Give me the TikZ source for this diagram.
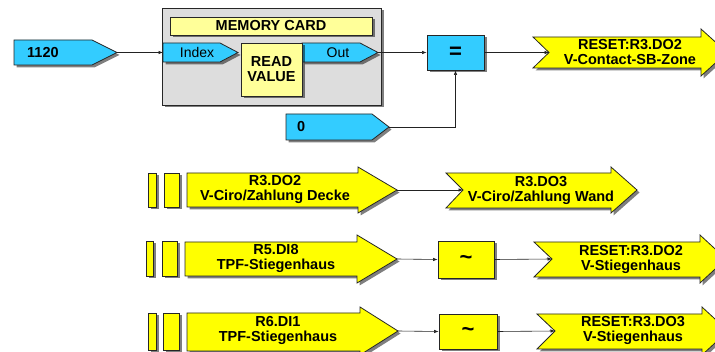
\documentclass[tikz,border=0pt]{standalone}
\usepackage{fontspec}
\setmainfont{Liberation Sans}
\usetikzlibrary{shadows,arrows.meta}
\definecolor{tagblue}{HTML}{33CCFF}
\definecolor{sigyellow}{HTML}{FFFF00}
\definecolor{paleyellow}{HTML}{FFFF99}
\definecolor{cardgray}{HTML}{DDDDDD}
\definecolor{wirecol}{HTML}{222222}
\tikzset{
  shade3d/.style={drop shadow={shadow xshift=2.5pt, shadow yshift=-2.5pt, fill=black, opacity=0.5}},
  outline/.style={draw=black!85, line width=0.8pt, shade3d},
  bluetag/.style={outline, fill=tagblue},
  sig/.style={outline, fill=sigyellow},
  pale/.style={outline, fill=paleyellow},
  boxnode/.style={rectangle, inner sep=0pt, line width=0.8pt, draw=black!85, shade3d},
  lbl/.style={font=\bfseries\fontsize{14.5}{15}\selectfont, align=center, inner sep=0pt},
  plainlbl/.style={font=\fontsize{14}{15}\selectfont, inner sep=0pt},
  wire/.style={draw=wirecol, line width=0.6pt, -{Latex[length=4.5pt,width=3.5pt]}},
  notbox/.style={boxnode, fill=sigyellow, font=\bfseries\fontsize{22}{22}\selectfont},
}
\begin{document}
\begin{tikzpicture}[x=1pt,y=-1pt]
\useasboundingbox (0,0) rectangle (715,352);

% ---------- memory card block ----------
\node[boxnode, fill=cardgray, minimum width=219pt, minimum height=97pt] (card) at (271.5,56.5) {};
\node[boxnode, fill=paleyellow, minimum width=202pt, minimum height=18pt] (title) at (271,26) {};
\node[lbl] (titletxt) at (271,26) {MEMORY CARD};

\path[bluetag] (163,43) -- (220,43) -- (238,52.5) -- (220,62) -- (163,62) -- cycle;
\node[plainlbl] (idx) at (197,52.5) {Index};
\coordinate (idxin) at (163,52.5);

\path[bluetag] (302,43) -- (360,43) -- (378,52.5) -- (360,62) -- (302,62) -- cycle;
\node[plainlbl] (outp) at (338,52.5) {Out};
\coordinate (outtip) at (378,52.5);

\node[boxnode, fill=paleyellow, minimum width=61pt, minimum height=53pt, lbl] (rv) at (271.5,69.5) {READ\\VALUE};

% ---------- constants ----------
\path[bluetag] (14,40) -- (92,40) -- (117,52.5) -- (92,65) -- (14,65) -- cycle;
\node[lbl, anchor=west] (k1120) at (27,52.5) {1120};
\coordinate (k1120tip) at (117,52.5);

\path[bluetag] (286,114) -- (372,114) -- (389,127) -- (372,140) -- (286,140) -- cycle;
\node[lbl, anchor=west] (k0) at (297,127) {0};
\coordinate (k0tip) at (389,127);

% ---------- comparator ----------
\node[boxnode, fill=tagblue, minimum width=57pt, minimum height=35pt,
      font=\bfseries\fontsize{22}{22}\selectfont] (eq) at (455.5,52.5) {=};

% ---------- output: RESET:R3.DO2 / V-Contact-SB-Zone ----------
\path[sig] (533,37) -- (701,37) -- (701,29) -- (727,52.5) -- (701,76) -- (701,68) -- (533,68) -- (549,52.5) -- cycle;
\coordinate (o1in) at (549,52.5);
\node[lbl] (o1txt) at (630,52.5) {RESET:R3.DO2\\V-Contact-SB-Zone};

\draw[wire] (k1120tip) -- (idxin);
\draw[wire] (outtip) -- (eq.west);
\draw[wire] (k0tip) -| (eq.south);
\draw[wire] (eq.east) -- (o1in);

% ---------- row 2 ----------
\path[sig] (148,173) rectangle (156,207);
\path[sig] (164,173) rectangle (179,207);
\path[sig] (187,173) -- (358,173) -- (358,167) -- (397,190) -- (358,213) -- (358,207) -- (187,207) -- cycle;
\coordinate (inAtip) at (397,190);
\node[lbl] (inAtxt) at (275,189.5) {R3.DO2\\V-Ciro/Zahlung Decke};

\path[sig] (446,173) -- (611,173) -- (611,167) -- (637,190) -- (611,213) -- (611,208) -- (446,208) -- (463,190) -- cycle;
\coordinate (oAin) at (463,190);
\node[lbl] (oAtxt) at (541,190) {R3.DO3\\V-Ciro/Zahlung Wand};

\draw[wire] (inAtip) -- (oAin);

% ---------- row 3 ----------
\path[sig] (146,241) rectangle (153,276);
\path[sig] (162,241) rectangle (177,276);
\path[sig] (185,242) -- (357,242) -- (357,235) -- (397,259) -- (357,283) -- (357,276) -- (185,276) -- cycle;
\coordinate (inBtip) at (397,259);
\node[lbl] (inBtxt) at (276,258.5) {R5.DI8\\TPF-Stiegenhaus};

\node[notbox, minimum width=56pt, minimum height=37pt] (notB) at (466,259.5) {\char`\~};

\path[sig] (534,242) -- (700,242) -- (700,235) -- (726,259) -- (700,283) -- (700,277) -- (534,277) -- (552,259) -- cycle;
\coordinate (oBin) at (552,259);
\node[lbl] (oBtxt) at (631,259.5) {RESET:R3.DO2\\V-Stiegenhaus};

\draw[wire] (inBtip) -- (notB.west);
\draw[wire] (notB.east) -- (oBin);

% ---------- row 4 ----------
\path[sig] (148,313) rectangle (156,350);
\path[sig] (163,313) rectangle (179,350);
\path[sig] (187,313) -- (360,313) -- (360,307) -- (398,331) -- (360,355) -- (360,351) -- (187,351) -- cycle;
\coordinate (inCtip) at (398,331);
\node[lbl] (inCtxt) at (278,330.5) {R6.DI1\\TPF-Stiegenhaus};

\node[notbox, minimum width=58pt, minimum height=35pt] (notC) at (468,331.5) {\char`\~};

\path[sig] (537,314) -- (702,314) -- (702,307) -- (728,331) -- (702,355) -- (702,349) -- (537,349) -- (555,331) -- cycle;
\coordinate (oCin) at (555,331);
\node[lbl] (oCtxt) at (633,330.5) {RESET:R3.DO3\\V-Stiegenhaus};

\draw[wire] (inCtip) -- (notC.west);
\draw[wire] (notC.east) -- (oCin);
\end{tikzpicture}
\end{document}
